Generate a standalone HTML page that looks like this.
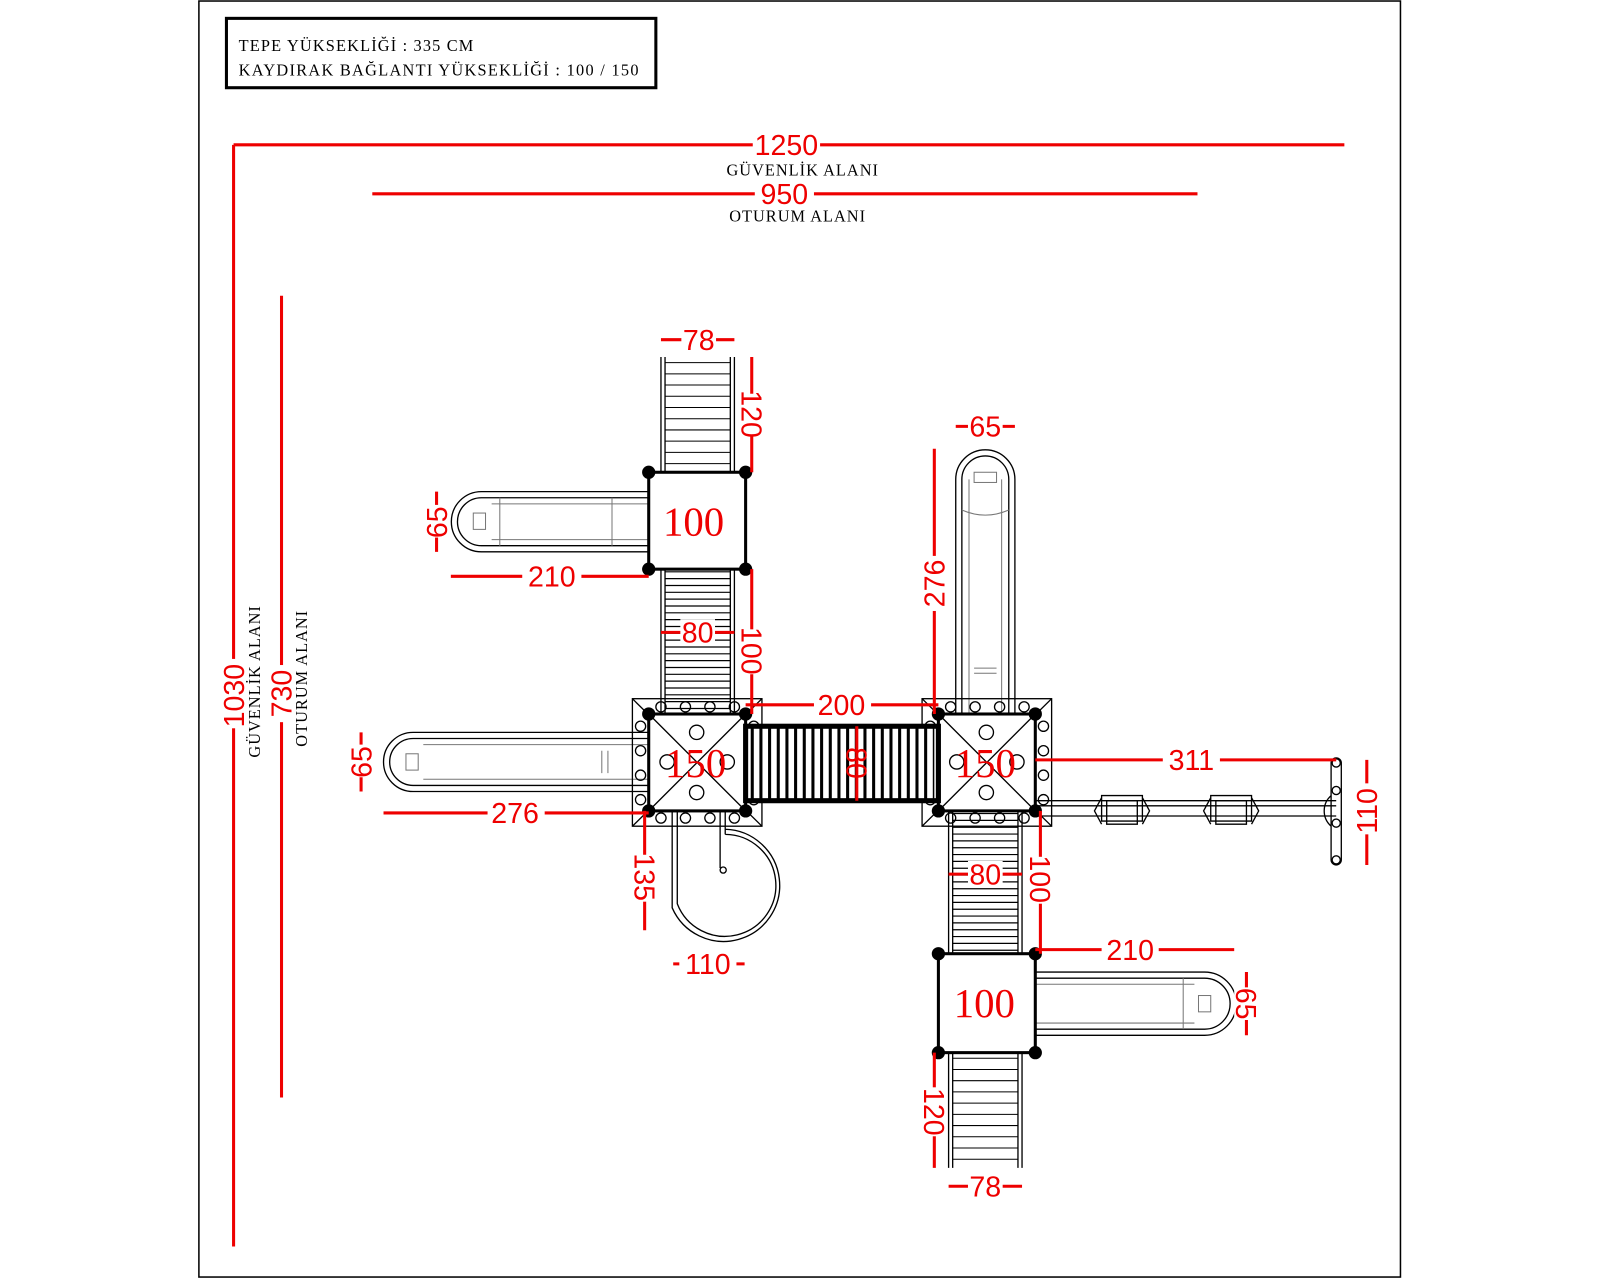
<!DOCTYPE html>
<html><head><meta charset="utf-8"><style>
html,body{margin:0;padding:0;background:#fff;width:1600px;height:1280px;overflow:hidden}
svg{display:block}
.r{fill:#e00;font-family:"Liberation Sans",sans-serif;font-size:28px;text-anchor:middle}
.s{fill:#e00;font-family:"Liberation Serif",serif;font-size:40px;text-anchor:middle}
.b{fill:#000;font-family:"Liberation Serif",serif;font-size:16px}
.rl{stroke:#e00;stroke-width:3;fill:none}
.k{stroke:#000;stroke-width:1.3;fill:none}
.g{stroke:#777;stroke-width:1;fill:none}
</style></head><body>
<svg width="1600" height="1280" viewBox="0 0 1600 1280" xmlns="http://www.w3.org/2000/svg">
<defs>
<g id="tw">
<rect x="-16" y="-15" width="127" height="125" class="k"/>
<path class="k" d="M-16 -15L111 110M111 -15L-16 110"/>
<rect x="0" y="0" width="95" height="95" fill="#fff" stroke="#000" stroke-width="3"/>
<path class="k" d="M0 0L95 95M95 0L0 95"/>
<g class="k">
<circle cx="47" cy="18" r="7"/><circle cx="47" cy="77" r="7"/><circle cx="18" cy="47" r="7"/><circle cx="77" cy="47" r="7"/>
<circle cx="12" cy="-7" r="5"/><circle cx="36" cy="-7" r="5"/><circle cx="60" cy="-7" r="5"/><circle cx="84" cy="-7" r="5"/>
<circle cx="12" cy="102" r="5"/><circle cx="36" cy="102" r="5"/><circle cx="60" cy="102" r="5"/><circle cx="84" cy="102" r="5"/>
<circle cx="-8" cy="12" r="5"/><circle cx="-8" cy="36" r="5"/><circle cx="-8" cy="60" r="5"/><circle cx="-8" cy="84" r="5"/>
<circle cx="103" cy="12" r="5"/><circle cx="103" cy="36" r="5"/><circle cx="103" cy="60" r="5"/><circle cx="103" cy="84" r="5"/>
</g>
</g>
<g id="sw">
<path class="k" d="M-20 -10H20V15H-20ZM-15 -5H15V18H-15ZM-20 -8L-27 5L-20 18M20 -8L27 5L20 18"/>
</g>
</defs>
<g transform="scale(1.02)">
<rect x="195" y="1" width="1178" height="1251" fill="none" stroke="#000" stroke-width="1.5"/>
<rect x="222" y="18" width="421" height="68" fill="none" stroke="#000" stroke-width="3"/>
<text class="b" x="234" y="50" textLength="230">TEPE YÜKSEKLİĞİ : 335 CM</text>
<text class="b" x="234" y="74" textLength="392">KAYDIRAK BAĞLANTI YÜKSEKLİĞİ : 100 / 150</text>

<path class="rl" d="M229 142H1318M229 142V1222M365 190H1174M276 290V1076"/>
<rect x="738" y="130" width="66" height="24" fill="#fff"/>
<text class="r" x="771" y="152">1250</text>
<text class="b" x="787" y="172" text-anchor="middle" style="letter-spacing:1px">GÜVENLİK ALANI</text>
<rect x="740" y="178" width="58" height="24" fill="#fff"/>
<text class="r" x="769" y="200">950</text>
<text class="b" x="782" y="217" text-anchor="middle" style="letter-spacing:1px">OTURUM ALANI</text>
<rect x="217" y="646" width="24" height="68" fill="#fff"/>
<text class="r" transform="translate(239,682) rotate(-90)">1030</text>
<rect x="264" y="652" width="24" height="56" fill="#fff"/>
<text class="r" transform="translate(286,680) rotate(-90)">730</text>
<text class="b" transform="translate(255,668) rotate(-90)" text-anchor="middle" style="letter-spacing:1px">GÜVENLİK ALANI</text>
<text class="b" transform="translate(301,665) rotate(-90)" text-anchor="middle" style="letter-spacing:1px">OTURUM ALANI</text>

<!-- ladders/stairs -->
<path class="k" d="M648 350V463M652 350V463M720 350V463M716 350V463"/>
<path d="M684 355V463" stroke="#000" stroke-width="64" stroke-dasharray="1 10"/>
<path class="k" d="M648 558V700M652 558V700M720 558V700M716 558V700"/>
<path d="M684 560V700" stroke="#000" stroke-width="64" stroke-dasharray="1.2 5.5"/>
<path class="k" d="M930 795V935M934 795V935M1002 795V935M998 795V935"/>
<path d="M966 797V935" stroke="#000" stroke-width="64" stroke-dasharray="1.2 5.5"/>
<path class="k" d="M930 1032V1145M934 1032V1145M1002 1032V1145M998 1032V1145"/>
<path d="M966 1037V1145" stroke="#000" stroke-width="64" stroke-dasharray="1 10"/>

<!-- slides -->
<path class="k" d="M636 482H472A29.5 29.5 0 0 0 472 541H636M636 488H472A23.5 23.5 0 0 0 472 535H636"/>
<path class="g" d="M482 494H636M482 529H636M600 488V535M490 488V535"/>
<rect x="464" y="503" width="12" height="16" class="g"/>
<path class="k" d="M636 718H405A29 29 0 0 0 405 776H636M636 724H405A23 23 0 0 0 405 770H636"/>
<path class="g" d="M415 730H636M415 764H636M590 736V758M596 736V758"/>
<rect x="398" y="739" width="12" height="16" class="g"/>
<path class="k" d="M1015 953H1181A31 31 0 0 1 1181 1015H1015M1015 959H1181A25 25 0 0 1 1181 1009H1015"/>
<path class="g" d="M1015 965H1171M1015 1003H1171M1160 959V1009"/>
<rect x="1175" y="976" width="12" height="16" class="g"/>
<path class="k" d="M937 700V470A29 29 0 0 1 995 470V700M943 700V470A23 23 0 0 1 989 470V700"/>
<path class="g" d="M950 470V700M982 470V700M955 655H977M955 660H977M943 500Q966 510 989 500"/>
<rect x="955" y="463" width="22" height="10" class="g"/>

<!-- spiral -->
<path class="k" d="M659 796V890A55 55 0 1 0 711 813M664 796V886A50 50 0 1 0 711 818M706 796V851M711 796V818"/>
<circle cx="709" cy="853" r="3" class="k"/>

<!-- towers -->
<use href="#tw" x="636" y="700"/>
<use href="#tw" x="920" y="700"/>

<!-- bridge -->
<rect x="731" y="712" width="189" height="73" fill="#fff" stroke="#000" stroke-width="5"/>
<path d="M736 748.5H916" stroke="#000" stroke-width="69" stroke-dasharray="3 5.5"/>

<!-- rail extension -->
<path class="k" d="M1015 785H1310M1015 790H1310M1015 800H1310"/>
<use href="#sw" x="1100" y="790"/>
<use href="#sw" x="1207" y="790"/>
<path class="k" d="M1305 748V843A5 5 0 0 0 1315 843V748A5 5 0 0 0 1305 748M1305 780A20 20 0 0 0 1305 810"/>
<g class="k"><circle cx="1310" cy="748" r="4"/><circle cx="1310" cy="775" r="4"/><circle cx="1310" cy="807" r="4"/><circle cx="1310" cy="843" r="4"/></g>

<!-- squares -->
<g fill="#fff" stroke="#000" stroke-width="3">
<rect x="636" y="463" width="95" height="95"/>
<rect x="920" y="935" width="95" height="97"/>
</g>
<text class="s" x="680" y="525">100</text>
<text class="s" x="965" y="997">100</text>
<text class="s" x="682" y="762">150</text>
<text class="s" x="966" y="762">150</text>

<!-- posts -->
<g fill="#000">
<circle cx="636" cy="463" r="6.5"/><circle cx="731" cy="463" r="6.5"/><circle cx="636" cy="558" r="6.5"/><circle cx="731" cy="558" r="6.5"/>
<circle cx="636" cy="700" r="6.5"/><circle cx="731" cy="700" r="6.5"/><circle cx="636" cy="795" r="6.5"/><circle cx="731" cy="795" r="6.5"/>
<circle cx="920" cy="700" r="6.5"/><circle cx="1015" cy="700" r="6.5"/><circle cx="920" cy="795" r="6.5"/><circle cx="1015" cy="795" r="6.5"/>
<circle cx="920" cy="935" r="6.5"/><circle cx="1015" cy="935" r="6.5"/><circle cx="920" cy="1032" r="6.5"/><circle cx="1015" cy="1032" r="6.5"/>
</g>

<!-- small dims -->
<path class="rl" d="M648 333H720
M737 350V463M442 565H636M428 482V541M648 620H720M737 558V700
M731 691H920M840 712V785M354 718V776M376 797H636M632 795V912M660 945H730
M937 418H995M916 440V700M1015 745H1310M1340 745V848M930 857H1002M1020 795V935
M1015 931H1210M1222 953V1015M916 1032V1145M930 1163H1002"/>
<g fill="#fff">
<rect x="668" y="320" width="34" height="26"/><rect x="725" y="386" width="24" height="40"/>
<rect x="416" y="495" width="24" height="32"/><rect x="512" y="552" width="58" height="26"/>
<rect x="667" y="607" width="34" height="26"/><rect x="725" y="617" width="24" height="44"/>
<rect x="798" y="678" width="56" height="26"/><rect x="342" y="730" width="24" height="32"/>
<rect x="478" y="784" width="56" height="26"/><rect x="620" y="838" width="24" height="46"/>
<rect x="666" y="932" width="56" height="26"/><rect x="949" y="405" width="34" height="26"/>
<rect x="904" y="545" width="24" height="54"/><rect x="1140" y="732" width="56" height="26"/>
<rect x="1328" y="768" width="24" height="50"/><rect x="949" y="844" width="34" height="26"/>
<rect x="1008" y="840" width="24" height="46"/><rect x="1080" y="918" width="56" height="26"/>
<rect x="1210" y="968" width="24" height="32"/><rect x="904" y="1066" width="24" height="48"/>
<rect x="949" y="1150" width="34" height="26"/>
</g>
<text class="r" x="685" y="343">78</text>
<text class="r" transform="translate(727,406) rotate(90)">120</text>
<text class="r" transform="translate(438,512) rotate(-90)">65</text>
<text class="r" x="541" y="575">210</text>
<text class="r" x="684" y="630">80</text>
<text class="r" transform="translate(727,638) rotate(90)">100</text>
<text class="r" x="825" y="701">200</text>
<text class="r" transform="translate(830,748) rotate(90)">80</text>
<text class="r" transform="translate(364,747) rotate(-90)">65</text>
<text class="r" x="505" y="807">276</text>
<text class="r" transform="translate(622,860) rotate(90)">135</text>
<text class="r" x="694" y="955">110</text>
<text class="r" x="966" y="428">65</text>
<text class="r" transform="translate(926,572) rotate(-90)">276</text>
<text class="r" x="1168" y="755">311</text>
<text class="r" transform="translate(1350,795) rotate(-90)">110</text>
<text class="r" x="966" y="867">80</text>
<text class="r" transform="translate(1010,862) rotate(90)">100</text>
<text class="r" x="1108" y="941">210</text>
<text class="r" transform="translate(1212,984) rotate(90)">65</text>
<text class="r" transform="translate(906,1090) rotate(90)">120</text>
<text class="r" x="966" y="1173">78</text>
</g>
</svg>
</body></html>
